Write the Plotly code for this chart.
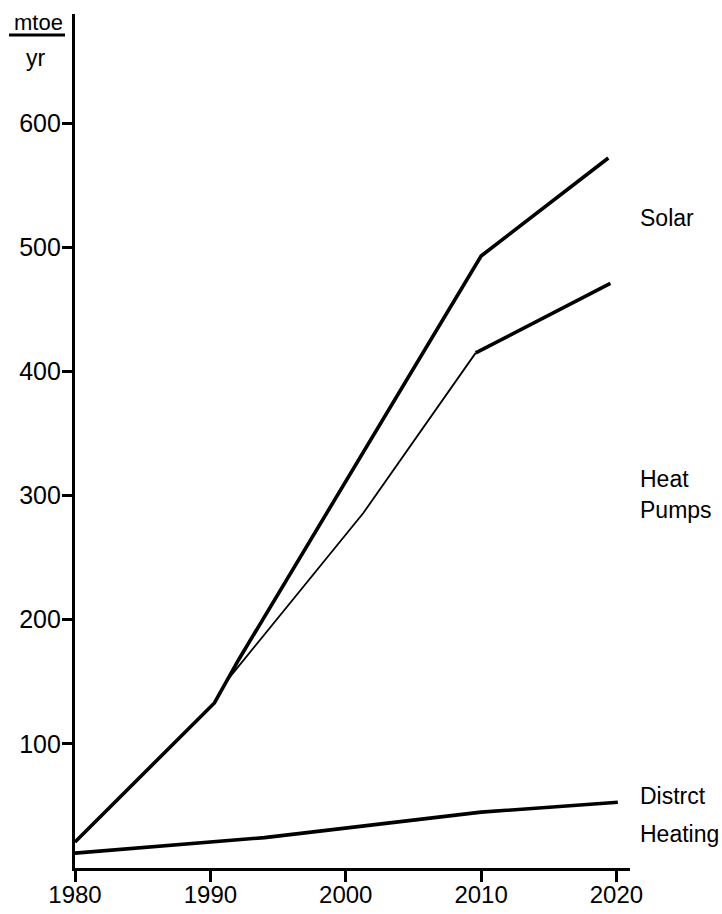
import plotly.graph_objects as go

# ---- data ----
solar_years = [1980, 1990.3, 1992.1, 2010.0, 2019.4]
solar_values = [21, 133, 168, 493, 572]

hp_years = [1980, 1990.3, 1991.3, 2001.3, 2009.6, 2019.55]
hp_values = [21, 133, 152, 286, 415, 471]

dh_years = [1980, 1986, 1994, 2010, 2020.1]
dh_values = [12, 17.5, 24.5, 45, 53]

x_ticks = [1980, 1990, 2000, 2010, 2020]
y_ticks = [100, 200, 300, 400, 500, 600]

series_labels = [("Solar", 217), ("Heat", 478), ("Pumps", 509), ("Distrct", 795), ("Heating", 833)]

FONT = "Liberation Sans, Arial, sans-serif"

W, H = 722, 914
L, R, T, B = 75, 92, 14, 46
PW, PH = W - L - R, H - T - B


def px_x(px):
    return (px - L) / PW


def px_y(py):
    return (H - B - py) / PH


fig = go.Figure()

# heat pumps thin part
fig.add_trace(go.Scatter(x=hp_years[:5], y=hp_values[:5], mode="lines",
                         line=dict(color="black", width=1.8), hoverinfo="skip"))
# heat pumps thick tail
fig.add_trace(go.Scatter(x=hp_years[4:], y=hp_values[4:], mode="lines",
                         line=dict(color="black", width=3.6), hoverinfo="skip"))
# solar
fig.add_trace(go.Scatter(x=solar_years, y=solar_values, mode="lines",
                         line=dict(color="black", width=3.6), hoverinfo="skip"))
# district heating
fig.add_trace(go.Scatter(x=dh_years, y=dh_values, mode="lines",
                         line=dict(color="black", width=3.6), hoverinfo="skip"))

annotations = []
for txt, py in series_labels:
    annotations.append(dict(text=txt, xref="paper", yref="paper", x=px_x(638), y=px_y(py + 1),
                            xanchor="left", yanchor="middle", showarrow=False,
                            font=dict(family=FONT, size=23, color="black")))
annotations.append(dict(text="mtoe", xref="paper", yref="paper", x=px_x(38), y=px_y(22),
                        xanchor="center", yanchor="middle", showarrow=False,
                        font=dict(family=FONT, size=22, color="black")))
annotations.append(dict(text="yr", xref="paper", yref="paper", x=px_x(36), y=px_y(58),
                        xanchor="center", yanchor="middle", showarrow=False,
                        font=dict(family=FONT, size=23, color="black")))

fig.update_layout(
    width=W, height=H,
    margin=dict(l=L, r=R, t=T, b=B),
    plot_bgcolor="white", paper_bgcolor="white",
    showlegend=False,
    annotations=annotations,
    shapes=[dict(type="line", xref="paper", yref="paper",
                 x0=px_x(9), x1=px_x(65), y0=px_y(35), y1=px_y(35),
                 line=dict(color="black", width=3))],
    xaxis=dict(range=[1980, 2021], tickvals=x_ticks, ticktext=[str(v) for v in x_ticks],
               showline=True, linecolor="black", linewidth=3.3, ticks="outside",
               ticklen=11, tickwidth=3, tickcolor="black", showgrid=False, zeroline=False,
               automargin=False, ticklabelstandoff=-8,
               tickfont=dict(family=FONT, size=24, color="black")),
    yaxis=dict(range=[0, 688], tickvals=y_ticks, ticktext=[str(v) for v in y_ticks],
               showline=True, linecolor="black", linewidth=3.3, ticks="outside",
               ticklen=10, tickwidth=3, tickcolor="black", showgrid=False, zeroline=False,
               automargin=False, ticklabelstandoff=-4,
               tickfont=dict(family=FONT, size=25, color="black")),
)

fig.write_html("out.html", config={"displayModeBar": False},
               post_script="document.body.style.margin='0';document.body.style.overflow='hidden';")
